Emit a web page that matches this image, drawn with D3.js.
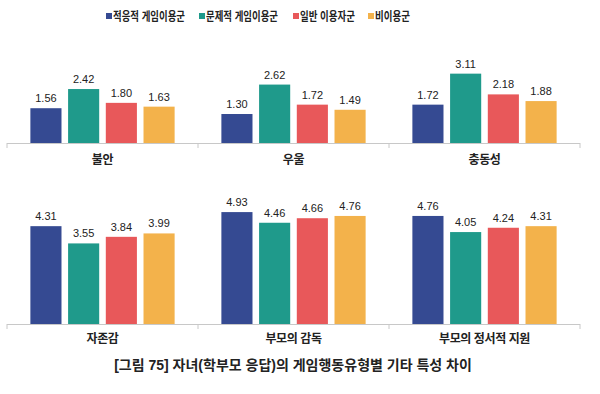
<!doctype html>
<html>
<head>
<meta charset="UTF-8">
<title>게임행동유형별 기타 특성 차이</title>
<style>
	body { margin: 0; background: #fff; }
	#container { font-size: 0; }
	text { font-family: "Liberation Sans", "Noto Sans CJK KR", sans-serif; }
</style>
</head>
<body>
<div id="container"></div>
<script src="https://cdn.jsdelivr.net/npm/d3@7/dist/d3.min.js"></script>
<script>
	var w = 600;
	var h = 394;

	var seriesNames = ["적응적 게임이용군", "문제적 게임이용군", "일반 이용자군", "비이용군"];
	var topCategories = ["불안", "우울", "충동성"];
	var bottomCategories = ["자존감", "부모의 감독", "부모의 정서적 지원"];
	// one array per series: top row then bottom row
	var adaptive = [1.56, 1.30, 1.72, 4.31, 4.93, 4.76];
	var problem = [2.42, 2.62, 3.11, 3.55, 4.46, 4.05];
	var general = [1.80, 1.72, 2.18, 3.84, 4.66, 4.24];
	var nonUser = [1.63, 1.49, 1.88, 3.99, 4.76, 4.31];
	var titleText = "[그림 75] 자녀(학부모 응답)의 게임행동유형별 기타 특성 차이";

	var colors = ["#354a92", "#1f9a8b", "#e8585a", "#f3b24b"];
	var seriesValues = [adaptive, problem, general, nonUser];

	var svg = d3.select("#container")
			.append("svg")
			.attr("width", w)
			.attr("height", h);

	// legend (font in the source is condensed, so squeeze the text)
	var legendX = [106, 199, 293, 368];
	var legendW = [72, 72, 55, 35];
	var legend = svg.append("g");
	seriesNames.forEach(function (name, i) {
		legend.append("rect")
				.attr("x", legendX[i])
				.attr("y", 13)
				.attr("width", 6)
				.attr("height", 6)
				.attr("fill", colors[i]);
		legend.append("text")
				.attr("x", legendX[i] + 7)
				.attr("y", 20.5)
				.attr("font-size", 12)
				.attr("font-weight", "bold")
				.attr("fill", "#222")
				.attr("textLength", legendW[i])
				.attr("lengthAdjust", "spacingAndGlyphs")
				.text(name);
	});

	function drawPanel(categories, offset, baseY, yMax, topY, labelY) {
		var x0 = d3.scaleBand()
				.domain(categories)
				.range([7, 580]);
		var x1 = d3.scaleBand()
				.domain(d3.range(4))
				.range([0, x0.bandwidth()])
				.paddingInner(0.175)
				.paddingOuter(0.62);
		var y = d3.scaleLinear()
				.domain([0, yMax])
				.range([baseY, topY]);

		var g = svg.append("g");
		var groups = g.selectAll("g.grp")
				.data(categories)
				.enter()
				.append("g")
				.attr("class", "grp")
				.attr("transform", function (d) {
					return "translate(" + x0(d) + ",0)";
				});

		groups.each(function (cat, ci) {
			var rows = seriesValues.map(function (arr, si) {
				return { s: si, v: arr[offset + ci] };
			});
			var sel = d3.select(this);
			sel.selectAll("rect")
					.data(rows)
					.enter()
					.append("rect")
					.attr("x", function (d) { return x1(d.s); })
					.attr("y", function (d) { return y(d.v); })
					.attr("width", x1.bandwidth())
					.attr("height", function (d) { return baseY - y(d.v); })
					.attr("fill", function (d) { return colors[d.s]; });
			sel.selectAll("text.val")
					.data(rows)
					.enter()
					.append("text")
					.attr("class", "val")
					.attr("x", function (d) { return x1(d.s) + x1.bandwidth() / 2; })
					.attr("y", function (d) { return y(d.v) - 6; })
					.attr("text-anchor", "middle")
					.attr("font-size", 11)
					.attr("fill", "#222")
					.text(function (d) { return d.v.toFixed(2); });
		});

		// baseline axis with ticks between groups
		var axis = d3.axisBottom(x0).tickSize(0).tickFormat("");
		var ax = g.append("g")
				.attr("transform", "translate(0," + baseY + ")")
				.call(axis);
		ax.select(".domain").attr("stroke", "#c8c8c8").attr("d", "M7,0.5H580");
		var bounds = categories.map(function (d) { return x0(d); }).concat([x0.range()[1]]);
		ax.selectAll("line.sep")
				.data(bounds)
				.enter()
				.append("line")
				.attr("class", "sep")
				.attr("x1", function (d) { return d; })
				.attr("x2", function (d) { return d; })
				.attr("y1", 0)
				.attr("y2", 5)
				.attr("stroke", "#c8c8c8");

		g.selectAll("text.cat")
				.data(categories)
				.enter()
				.append("text")
				.attr("class", "cat")
				.attr("x", function (d) { return x0(d) + x0.bandwidth() / 2; })
				.attr("y", labelY)
				.attr("text-anchor", "middle")
				.attr("font-size", 12)
				.attr("font-weight", "bold")
				.attr("letter-spacing", -0.4)
				.attr("fill", "#222")
				.text(function (d) { return d; });
	}

	drawPanel(topCategories, 0, 143, 3.5, 143 - 3.5 * 22.3, 164);
	drawPanel(bottomCategories, 3, 324, 5, 324 - 5 * 22.7, 343);

	svg.append("text")
			.attr("x", 293)
			.attr("y", 370)
			.attr("text-anchor", "middle")
			.attr("font-size", 14)
			.attr("font-weight", "bold")
			.attr("fill", "#222")
			.text(titleText);
</script>
</body>
</html>
